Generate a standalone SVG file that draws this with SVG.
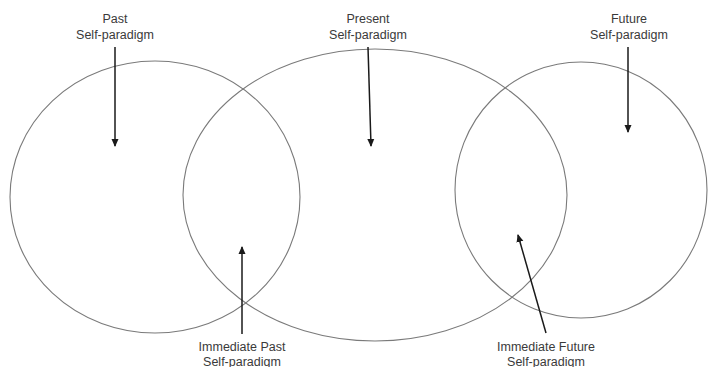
<svg xmlns="http://www.w3.org/2000/svg" width="709" height="367" viewBox="0 0 709 367">
<defs>
<marker id="ah" markerWidth="8" markerHeight="10" refX="7" refY="3.5" orient="auto" markerUnits="userSpaceOnUse" viewBox="0 0 8 7">
<path d="M0,0 L8,3.5 L0,7 Z" fill="#1a1a1a"/>
</marker>
<style>
.c{fill:none;stroke:#7a7a7a;stroke-width:1.1}
.a{stroke:#1a1a1a;stroke-width:1.5;fill:none;marker-end:url(#ah)}
text{font-family:"Liberation Sans",Arial,sans-serif;font-size:12.5px;fill:#3a3a3a;text-anchor:middle}
</style>
</defs>
<rect width="709" height="367" fill="#fff"/>
<g id="past"><ellipse class="c" cx="155" cy="197" rx="145" ry="136"/></g>
<g id="present"><ellipse class="c" cx="375" cy="195" rx="192" ry="146"/></g>
<g id="future"><ellipse class="c" cx="581" cy="190" rx="126" ry="128"/></g>
<g id="labels">
<text x="115" y="23">Past</text><text x="115" y="39">Self-paradigm</text>
<text x="368" y="23">Present</text><text x="368" y="39">Self-paradigm</text>
<text x="629" y="23">Future</text><text x="629" y="39">Self-paradigm</text>
<text x="242" y="351">Immediate Past</text><text x="242" y="366">Self-paradigm</text>
<text x="546" y="351">Immediate Future</text><text x="546" y="366">Self-paradigm</text>
</g>
<g id="connectors">
<line class="a" x1="115" y1="47" x2="115" y2="146"/>
<line class="a" x1="368" y1="47" x2="371" y2="146"/>
<line class="a" x1="628" y1="47" x2="628" y2="132"/>
<line class="a" x1="242" y1="334" x2="242" y2="247"/>
<line class="a" x1="546" y1="333" x2="518" y2="235"/>
</g>
</svg>
